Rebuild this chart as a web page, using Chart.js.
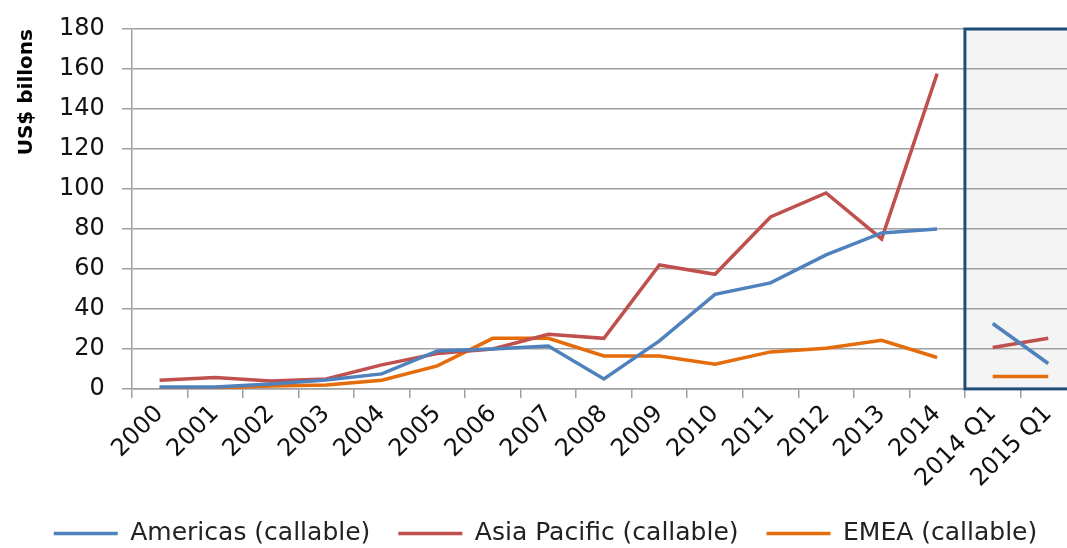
<!DOCTYPE html>
<html>
<head>
<meta charset="utf-8">
<script src="https://cdn.jsdelivr.net/npm/chart.js@4.4.1/dist/chart.umd.min.js"></script>
<style>
html,body{margin:0;padding:0;background:#fff;overflow:hidden;width:1067px;height:548px;}
#wrap{position:absolute;left:0;top:0;width:1085px;height:548px;}
</style>
</head>
<body>
<div id="wrap"><canvas id="c" width="1085" height="548"></canvas></div>
<script>
const categories = ['2000','2001','2002','2003','2004','2005','2006','2007','2008','2009','2010','2011','2012','2013','2014','2014 Q1','2015 Q1'];
const americas = [1, 1, 2.5, 4.5, 7.5, 19, 20, 21.5, 5, 24, 47.3, 53, 67, 78, 80, 32.7, 12.7];
const asiaPacific = [4.3, 5.7, 4, 5, 12, 17.7, 20, 27.3, 25.3, 62, 57.3, 86, 98, 75, 157.7, 20.7, 25.3];
const emea = [0.5, 0.5, 1.5, 2, 4.3, 11.5, 25.3, 25.3, 16.5, 16.5, 12.3, 18.5, 20.3, 24.3, 15.7, 6.2, 6.2];
const seriesNames = ['Americas (callable)', 'Asia Pacific (callable)', 'EMEA (callable)'];
const seriesColors = ['#4f81bd', '#c0504d', '#e46c0a'];
const yAxisTitle = 'US$ billons';
const quarterStartIndex = 15;

const gapSegment = {
  borderColor: ctx => ctx.p0DataIndex === quarterStartIndex - 1 ? 'rgba(0,0,0,0)' : undefined
};

function boxLeft(chart) {
  const x = chart.scales.x;
  return (x.getPixelForValue(quarterStartIndex - 1) + x.getPixelForValue(quarterStartIndex)) / 2;
}

const quarterBox = {
  id: 'quarterBox',
  beforeDraw(chart) {
    const a = chart.chartArea, ctx = chart.ctx, left = boxLeft(chart);
    ctx.save();
    ctx.fillStyle = '#f4f4f4';
    ctx.fillRect(left, a.top, a.right - left, a.bottom - a.top);
    ctx.restore();
  },
  afterDatasetsDraw(chart) {
    const a = chart.chartArea, ctx = chart.ctx, left = boxLeft(chart);
    ctx.save();
    ctx.strokeStyle = '#1f4e79';
    ctx.lineWidth = 3;
    ctx.strokeRect(left, a.top, a.right - left, a.bottom - a.top);
    ctx.restore();
  }
};

const datasets = [americas, asiaPacific, emea].map((d, i) => ({
  label: seriesNames[i],
  data: d,
  borderColor: seriesColors[i],
  backgroundColor: seriesColors[i],
  borderWidth: 3.5,
  pointRadius: 0,
  tension: 0,
  segment: gapSegment
}));

new Chart(document.getElementById('c'), {
  type: 'line',
  data: { labels: categories, datasets },
  plugins: [quarterBox],
  options: {
    responsive: false,
    animation: false,
    layout: { padding: { left: 15, right: 9, top: 4, bottom: -8 } },
    plugins: {
      legend: {
        position: 'bottom',
        labels: {
          usePointStyle: true,
          pointStyle: 'line',
          pointStyleWidth: 64,
          padding: 28,
          color: '#222',
          font: { family: 'DejaVu Sans', size: 25 }
        }
      },
      tooltip: { enabled: false }
    },
    scales: {
      x: {
        offset: true,
        afterFit: s => { s.height -= 2; },
        grid: { offset: true, drawOnChartArea: false, drawTicks: true, tickLength: 9, color: '#a0a0a0', lineWidth: 1.5 },
        border: { color: '#a0a0a0', width: 1.5 },
        ticks: { maxRotation: 45, minRotation: 45, autoSkip: false, color: '#111', padding: 2, font: { family: 'DejaVu Sans', size: 24 } }
      },
      y: {
        min: 0, max: 180,
        ticks: { stepSize: 20, color: '#111', padding: 17, font: { family: 'DejaVu Sans', size: 24, lineHeight: 1 } },
        grid: { color: '#a0a0a0', lineWidth: 1.5, tickLength: 10 },
        border: { color: '#a0a0a0', width: 1.5 },
        title: { display: true, text: yAxisTitle, align: 'end', color: '#000', padding: { top: 0, bottom: 3 }, font: { family: 'DejaVu Sans', size: 20, weight: 'bold' } }
      }
    }
  }
});
</script>
</body>
</html>
